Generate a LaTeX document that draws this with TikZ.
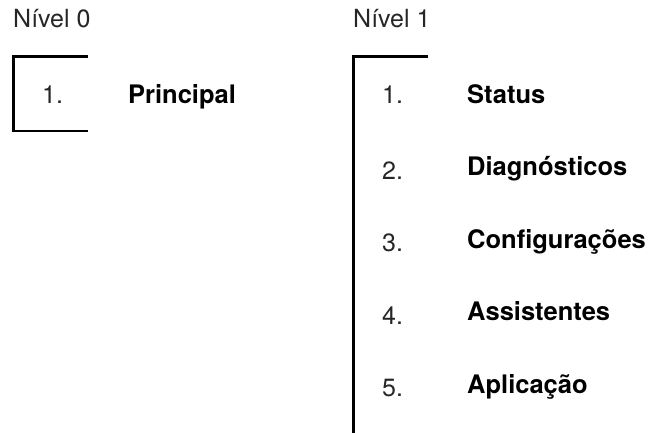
\documentclass[tikz,border=0pt]{standalone}
\usepackage{fontspec}
\setmainfont{TeX Gyre Heros}
\begin{document}
\begin{tikzpicture}[x=1pt,y=1pt,
  lvl/.style={anchor=base west,inner sep=0pt,font=\fontsize{25}{29}\selectfont,text=black!85},
  num/.style={anchor=base west,inner sep=0pt,font=\fontsize{25}{29}\selectfont,text=black!85},
  title/.style={anchor=base west,inner sep=0pt,font=\fontsize{25.5}{30}\selectfont\bfseries},
  bracket/.style={line width=2.7pt,line join=miter}]
\useasboundingbox (0,0) rectangle (655,432);
% Level 0
\node[lvl] (l0) at (13,404) {Nível 0};
\coordinate (a0) at (88,375.3);
\coordinate (a1) at (13.3,375.3);
\coordinate (a2) at (13.3,301);
\coordinate (a3) at (88,301);
\draw[bracket] (a0) -- (a1) -- (a2) -- (a3);
\node[num] (n01) at (42,329) {1.};
\node[title] (t01) at (128,329) {Principal};
% Level 1
\node[lvl] (l1) at (353,404) {Nível 1};
\coordinate (b0) at (428,375.3);
\coordinate (b1) at (353.3,375.3);
\coordinate (b2) at (353.3,-2);
\draw[bracket] (b0) -- (b1) -- (b2);
\node[num] (n11) at (382,329) {1.};
\node[title] (t11) at (467,329) {Status};
\node[num] (n12) at (382,253) {2.};
\node[title] (t12) at (467,256.5) {Diagnósticos};
\node[num] (n13) at (382,180.5) {3.};
\node[title] (t13) at (467,184) {Configurações};
\node[num] (n14) at (382,108) {4.};
\node[title] (t14) at (467,111.5) {Assistentes};
\node[num] (n15) at (382,35.5) {5.};
\node[title] (t15) at (467,39) {Aplicação};
\end{tikzpicture}
\end{document}
